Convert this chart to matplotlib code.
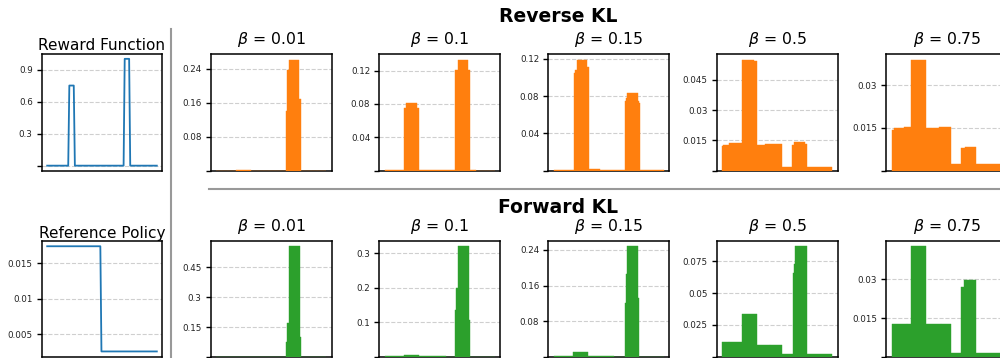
import numpy as np
import matplotlib
matplotlib.use("Agg")
import matplotlib.pyplot as plt
from matplotlib.lines import Line2D

# ---------------- data ----------------
reward_x = [0, 19, 20, 24, 25, 69, 70, 74, 75, 99]
reward_y = [0, 0, 0.75, 0.75, 0, 0, 1.0, 1.0, 0, 0]
ref_x = [0, 48, 49, 99]
ref_y = [0.0174, 0.0174, 0.0026, 0.0026]

betas = ["0.01", "0.1", "0.15", "0.5", "0.75"]

# reverse KL policies: bin edges and heights
rkl_001_edges = [0, 18.0, 31.7, 63.5, 64.7, 66.5, 75.6, 76.8, 100]
rkl_001_heights = [0, 0.0018, 0, 0.1415, 0.2376, 0.2613, 0.169, 0]
rkl_01_edges = [0, 17.8, 19.3, 29.0, 30.9, 64.0, 66.1, 75.5, 77.6, 83.1, 100]
rkl_01_heights = [0.0009, 0.0748, 0.0816, 0.0756, 0.0009, 0.1208, 0.1328, 0.1208, 0.0009, 0]
rkl_015_edges = [0, 18.3, 19.6, 20.8, 29.9, 32.0, 42.0, 64.7, 65.6, 66.8, 76.5, 77.4, 78.3, 100]
rkl_015_heights = [0.0009, 0.1049, 0.1082, 0.1189, 0.1107, 0.002, 0.0009, 0.0751, 0.0777, 0.0838, 0.0751, 0.073, 0.0009]
rkl_05_edges = [0, 1.1, 6.2, 18.1, 19.3, 28.7, 31.8, 39.1, 54.6, 63.7, 64.9, 74.9, 77.4, 100]
rkl_05_heights = [0.0124, 0.0127, 0.0138, 0.0546, 0.0549, 0.0545, 0.0127, 0.0132, 0.0019, 0.0125, 0.0143, 0.0133, 0.0019]
rkl_075_edges = [0, 2.3, 11.4, 17.8, 31.2, 43.0, 54.0, 63.4, 67.0, 76.7, 100]
rkl_075_heights = [0.0142, 0.0150, 0.01535, 0.0390, 0.0151, 0.01535, 0.00246, 0.0081, 0.00844, 0.00246]

# forward KL policies
fkl_001_edges = [0, 63.5, 64.7, 66.2, 75.9, 77.1, 100]
fkl_001_heights = [0, 0.0746, 0.170, 0.5556, 0.0997, 0]
fkl_01_edges = [0, 17.8, 31.2, 55.2, 64.0, 64.9, 66.1, 76.7, 77.7, 100]
fkl_01_heights = [0.003, 0.006, 0.003, 0, 0.1356, 0.199, 0.3202, 0.1067, 0]
fkl_015_edges = [0, 17.6, 31.1, 54.6, 64.4, 65.6, 66.8, 76.9, 77.8, 100]
fkl_015_heights = [0.0022, 0.0105, 0.0022, 0, 0.1219, 0.1854, 0.2482, 0.1316, 0]
fkl_05_edges = [0, 6.6, 18.1, 31.5, 43.0, 54.3, 64.0, 64.9, 66.1, 77.0, 100]
fkl_05_heights = [0.0113, 0.0118, 0.0338, 0.0097, 0.0093, 0.0019, 0.0654, 0.0727, 0.0867, 0.0019]
fkl_075_edges = [0, 13.8, 17.8, 31.2, 44.8, 54.0, 63.4, 65.5, 76.7, 100]
fkl_075_heights = [0.01254, 0.0129, 0.0428, 0.0129, 0.01254, 0.00168, 0.0269, 0.0296, 0.00168]

rkl_ticks = [[0, 0.08, 0.16, 0.24], [0, 0.04, 0.08, 0.12], [0, 0.04, 0.08, 0.12],
             [0, 0.015, 0.03, 0.045], [0, 0.015, 0.03]]
fkl_ticks = [[0, 0.15, 0.3, 0.45], [0, 0.1, 0.2, 0.3], [0, 0.08, 0.16, 0.24],
             [0, 0.025, 0.05, 0.075], [0, 0.015, 0.03]]
reward_ticks = [0, 0.3, 0.6, 0.9]
ref_ticks = [0.005, 0.01, 0.015]

rkl = [(rkl_001_edges, rkl_001_heights), (rkl_01_edges, rkl_01_heights),
       (rkl_015_edges, rkl_015_heights), (rkl_05_edges, rkl_05_heights),
       (rkl_075_edges, rkl_075_heights)]
fkl = [(fkl_001_edges, fkl_001_heights), (fkl_01_edges, fkl_01_heights),
       (fkl_015_edges, fkl_015_heights), (fkl_05_edges, fkl_05_heights),
       (fkl_075_edges, fkl_075_heights)]

# ---------------- layout ----------------
W, H = 1000, 358
fig = plt.figure(figsize=(W / 100, H / 100), dpi=100)


def add_ax(left, top, w, h):
    return fig.add_axes([left / W, 1 - (top + h) / H, w / W, h / H])


def fmt(v):
    return "" if v == 0 else f"{v:g}"


def style(ax, ticks):
    ax.set_xticks([])
    ax.set_yticks(ticks)
    ax.set_yticklabels([fmt(t) for t in ticks])
    ax.tick_params(axis="y", labelsize=6.3, width=1.0, length=3.5, pad=3.0,
                   labelcolor="#222222")
    ax.grid(axis="y", linestyle="--", color="#cfcfcf", linewidth=0.8)
    ax.set_axisbelow(True)
    for s in ax.spines.values():
        s.set_linewidth(1.1)
        s.set_color("black")


blue = "#1f77b4"
orange = "#ff7f0e"
green = "#2ca02c"

ax = add_ax(41.7, 53.5, 120.6, 117.5)
ax.plot(reward_x, reward_y, color=blue, lw=1.3)
style(ax, reward_ticks)
ax.set_title("Reward Function", fontsize=11, pad=1.6)

ax = add_ax(41.7, 241, 120.6, 115.7)
ax.plot(ref_x, ref_y, color=blue, lw=1.3)
style(ax, ref_ticks)
ax.set_title("Reference Policy", fontsize=11, pad=1.9)

lefts = [210.7, 379.3, 548.3, 716.7, 886.0]
for row, (data, ticks, color, top) in enumerate(
        [(rkl, rkl_ticks, orange, 54.3), (fkl, fkl_ticks, green, 240.7)]):
    for i, ((edges, heights), tk) in enumerate(zip(data, ticks)):
        ax = add_ax(lefts[i], top, 121, 116.2)
        e = np.array(edges)
        ax.bar(e[:-1], heights, width=np.diff(e), align="edge", color=color,
               edgecolor=color, linewidth=0.3, zorder=3)
        ax.set_xlim(-5, 105)
        style(ax, tk)
        ax.set_title(r"$\beta$ = " + betas[i], fontsize=11.3, pad=7.3)

fig.text(558 / W, 1 - 22 / H, "Reverse KL", fontsize=13.5, fontweight="bold",
         ha="center", va="baseline")
fig.text(558 / W, 1 - 213.3 / H, "Forward KL", fontsize=13.5, fontweight="bold",
         ha="center", va="baseline")

fig.add_artist(Line2D([170.7 / W, 170.7 / W], [1 - 29 / H, -0.02],
                      color="#999999", lw=1.5, transform=fig.transFigure))
fig.add_artist(Line2D([209.3 / W, 1.02], [1 - 189.3 / H, 1 - 189.3 / H],
                      color="#999999", lw=1.5, transform=fig.transFigure))

fig.savefig("out.png", dpi=100)
